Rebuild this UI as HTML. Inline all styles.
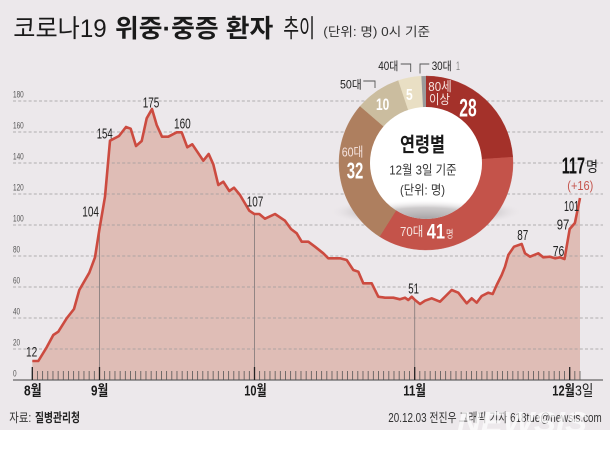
<!DOCTYPE html>
<html><head><meta charset="utf-8"><style>
html,body{margin:0;padding:0;background:#fff;}
svg{display:block;}
text{font-family:"Liberation Sans","Noto Sans CJK KR",sans-serif;}
</style></head><body>
<svg width="610" height="450" viewBox="0 0 610 450" xmlns="http://www.w3.org/2000/svg">
<defs>
<radialGradient id="sh" cx="50%" cy="50%" r="50%">
<stop offset="0%" stop-color="#8f8b8d" stop-opacity="0.9"/>
<stop offset="65%" stop-color="#aaa6a8" stop-opacity="0.6"/>
<stop offset="100%" stop-color="#ece8eb" stop-opacity="0"/>
</radialGradient>
<clipPath id="hole"><circle cx="426" cy="163" r="56"/></clipPath>
</defs>
<rect x="0" y="0" width="610" height="430" fill="#ece8eb"/>

<!-- title -->
<text x="13.3" y="37" font-size="25" fill="#1a1a1a" textLength="93.4" lengthAdjust="spacingAndGlyphs">코로나19</text>
<text x="115" y="37" font-size="25" font-weight="bold" fill="#1a1a1a" textLength="158.3" lengthAdjust="spacingAndGlyphs">위중·중증 환자</text>
<text x="283.3" y="37" font-size="25" fill="#1a1a1a" textLength="31.7" lengthAdjust="spacingAndGlyphs">추이</text>
<text x="323.3" y="35.8" font-size="12.5" fill="#333" textLength="106.7" lengthAdjust="spacingAndGlyphs">(단위: 명) 0시 기준</text>

<!-- fill -->
<polygon fill="#dfbdb6" points="32.3,380 32.3,361 38.3,361 46.7,347.3 53.3,335 58.3,331.7 66.7,318.3 74,309 79.3,290 89.3,272.7 95,257.3 99.3,230 105,196.7 110,140.7 119,136 126,127 130.7,128.7 136,146 141.7,141 146.7,118.3 152,109 156.7,125 162,136.7 168.3,136.7 176.7,132.3 181.7,132.3 187.3,147.3 192.3,144.3 203.3,160.7 208.7,154 213.3,164.3 218.3,185 223.3,181.7 229.3,191 234,187.7 240,195 249.3,210.7 254.3,214 259.3,214 265,218.7 275,214 285,220.7 291,229 296.7,233.3 301.7,241.7 308.3,241.7 315,246.7 323.3,253.3 328.3,258.3 340,258.3 346.7,260 353.3,270 358.3,271.7 363.3,283.3 371.7,283.3 378.3,296.7 385,297.7 393.3,297.7 400,299.3 405,297.7 408.3,300 411.7,296.7 415,300 420,304 425,300.7 431.7,298.3 440,301.7 446.7,295 451.7,290 458.3,292.7 466.7,303.3 471.7,298.3 476.7,302.7 481.7,296 488.3,292.7 492.7,294 496.7,285 501.7,275 505,266.7 508.3,255 514,246.7 521.7,244 525,253.3 530,256.7 538.3,253.3 543.3,257.3 550,256.7 555,258.3 560,257.3 564.5,259 569.7,229 574.9,223 580,198 580,380"/>

<!-- gridlines -->
<g stroke="#9c9a9c" stroke-width="0.8" stroke-dasharray="3 2.2">
<line x1="13" y1="101" x2="603" y2="101"/>
<line x1="13" y1="132" x2="603" y2="132"/>
<line x1="13" y1="163" x2="603" y2="163"/>
<line x1="13" y1="194" x2="603" y2="194"/>
<line x1="13" y1="225" x2="603" y2="225"/>
<line x1="13" y1="256" x2="603" y2="256"/>
<line x1="13" y1="287" x2="603" y2="287"/>
<line x1="13" y1="318" x2="603" y2="318"/>
<line x1="13" y1="349" x2="603" y2="349"/>
</g>
<g font-size="9.5" fill="#555">
<text x="13" y="97.5" textLength="10.7" lengthAdjust="spacingAndGlyphs">180</text>
<text x="13" y="128.5" textLength="10.7" lengthAdjust="spacingAndGlyphs">160</text>
<text x="13" y="159.5" textLength="10.7" lengthAdjust="spacingAndGlyphs">140</text>
<text x="13" y="190.5" textLength="10.7" lengthAdjust="spacingAndGlyphs">120</text>
<text x="13" y="221.5" textLength="10.7" lengthAdjust="spacingAndGlyphs">100</text>
<text x="13" y="252.5" textLength="7.1" lengthAdjust="spacingAndGlyphs">80</text>
<text x="13" y="283.5" textLength="7.1" lengthAdjust="spacingAndGlyphs">60</text>
<text x="13" y="314.5" textLength="7.1" lengthAdjust="spacingAndGlyphs">40</text>
<text x="13" y="345.5" textLength="7.1" lengthAdjust="spacingAndGlyphs">20</text>
<text x="13" y="376.5" textLength="3.6" lengthAdjust="spacingAndGlyphs">0</text>
</g>

<!-- vertical month lines -->
<g stroke="#8a7f7f" stroke-width="0.9">
<line x1="99.5" y1="230" x2="99.5" y2="367"/>
<line x1="254.5" y1="214" x2="254.5" y2="367"/>
<line x1="414.7" y1="300" x2="414.7" y2="367"/>
</g>

<!-- axis -->
<line x1="13" y1="380" x2="603" y2="380" stroke="#666" stroke-width="1.3"/>
<line x1="31.9" y1="375.5" x2="581" y2="375.5" stroke="#555" stroke-width="9" stroke-dasharray="0.8 4.367"/>
<g stroke="#222" stroke-width="1.3">
<line x1="32.3" y1="367" x2="32.3" y2="380"/>
<line x1="99.5" y1="367" x2="99.5" y2="380"/>
<line x1="254.5" y1="367" x2="254.5" y2="380"/>
<line x1="414.7" y1="367" x2="414.7" y2="380"/>
<line x1="569.7" y1="367" x2="569.7" y2="380"/>
</g>

<!-- line -->
<polyline fill="none" stroke="#cc4b40" stroke-width="2.6" stroke-linejoin="round" points="32.3,361 38.3,361 46.7,347.3 53.3,335 58.3,331.7 66.7,318.3 74,309 79.3,290 89.3,272.7 95,257.3 99.3,230 105,196.7 110,140.7 119,136 126,127 130.7,128.7 136,146 141.7,141 146.7,118.3 152,109 156.7,125 162,136.7 168.3,136.7 176.7,132.3 181.7,132.3 187.3,147.3 192.3,144.3 203.3,160.7 208.7,154 213.3,164.3 218.3,185 223.3,181.7 229.3,191 234,187.7 240,195 249.3,210.7 254.3,214 259.3,214 265,218.7 275,214 285,220.7 291,229 296.7,233.3 301.7,241.7 308.3,241.7 315,246.7 323.3,253.3 328.3,258.3 340,258.3 346.7,260 353.3,270 358.3,271.7 363.3,283.3 371.7,283.3 378.3,296.7 385,297.7 393.3,297.7 400,299.3 405,297.7 408.3,300 411.7,296.7 415,300 420,304 425,300.7 431.7,298.3 440,301.7 446.7,295 451.7,290 458.3,292.7 466.7,303.3 471.7,298.3 476.7,302.7 481.7,296 488.3,292.7 492.7,294 496.7,285 501.7,275 505,266.7 508.3,255 514,246.7 521.7,244 525,253.3 530,256.7 538.3,253.3 543.3,257.3 550,256.7 555,258.3 560,257.3 564.5,259 569.7,229 574.9,223 580,198"/>

<!-- annotations -->
<g font-size="15" fill="#222">
<text x="26" y="356.7" font-size="14" textLength="11.3" lengthAdjust="spacingAndGlyphs">12</text>
<text x="82.3" y="216.7" textLength="16.7" lengthAdjust="spacingAndGlyphs">104</text>
<text x="96.7" y="138.3" textLength="16" lengthAdjust="spacingAndGlyphs">154</text>
<text x="142.7" y="107.3" textLength="16.6" lengthAdjust="spacingAndGlyphs">175</text>
<text x="174" y="128.3" textLength="16.7" lengthAdjust="spacingAndGlyphs">160</text>
<text x="246.7" y="206.7" textLength="16.6" lengthAdjust="spacingAndGlyphs">107</text>
<text x="408.3" y="293.3" textLength="10.7" lengthAdjust="spacingAndGlyphs">51</text>
<text x="517.3" y="240" textLength="11" lengthAdjust="spacingAndGlyphs">87</text>
<text x="552.7" y="256" textLength="11.6" lengthAdjust="spacingAndGlyphs">76</text>
<text x="556.7" y="229.3" textLength="12.6" lengthAdjust="spacingAndGlyphs">97</text>
<text x="564" y="211" textLength="15" lengthAdjust="spacingAndGlyphs">101</text>
</g>
<text x="561.7" y="173.3" font-size="23" font-weight="bold" fill="#111" textLength="23.3" lengthAdjust="spacingAndGlyphs">117</text>
<text x="586" y="172" font-size="14.5" fill="#222" textLength="12" lengthAdjust="spacingAndGlyphs">명</text>
<text x="567.3" y="190" font-size="13" fill="#c4544c" textLength="26" lengthAdjust="spacingAndGlyphs">(+16)</text>

<!-- donut shadow -->
<ellipse cx="426" cy="212" rx="97" ry="15" fill="url(#sh)"/>
<!-- donut -->
<path d="M426,76 A87,87 0 0 1 512.80,157.16 L481.87,159.24 A56,56 0 0 0 426,107 Z" fill="#a4312a" stroke="#a4312a" stroke-width="0.4"/>
<path d="M512.80,157.16 A87,87 0 0 1 379.51,236.53 L396.07,210.33 A56,56 0 0 0 481.87,159.24 Z" fill="#c4534a" stroke="#c4534a" stroke-width="0.4"/>
<path d="M379.51,236.53 A87,87 0 0 1 360.12,106.18 L383.60,126.43 A56,56 0 0 0 396.07,210.33 Z" fill="#ae7f5f" stroke="#ae7f5f" stroke-width="0.4"/>
<path d="M360.12,106.18 A87,87 0 0 1 398.45,80.48 L408.26,109.88 A56,56 0 0 0 383.60,126.43 Z" fill="#cbbd9f" stroke="#cbbd9f" stroke-width="0.4"/>
<path d="M398.45,80.48 A87,87 0 0 1 421.33,76.13 L422.99,107.08 A56,56 0 0 0 408.26,109.88 Z" fill="#e9dfc4" stroke="#e9dfc4" stroke-width="0.4"/>
<path d="M421.33,76.13 A87,87 0 0 1 426,76 L426,107 A56,56 0 0 0 422.99,107.08 Z" fill="#9b9b9b"/>
<circle cx="426" cy="163" r="56" fill="#ffffff"/>
<ellipse cx="426" cy="222" rx="92" ry="22" fill="url(#sh)" clip-path="url(#hole)"/>

<!-- donut texts -->
<text x="422.5" y="151.7" font-size="20" font-weight="bold" fill="#1a1a1a" text-anchor="middle" textLength="45" lengthAdjust="spacingAndGlyphs">연령별</text>
<text x="423" y="174.5" font-size="13" fill="#333" text-anchor="middle" textLength="67.4" lengthAdjust="spacingAndGlyphs">12월 3일 기준</text>
<text x="422.5" y="194.5" font-size="13" fill="#333" text-anchor="middle" textLength="45" lengthAdjust="spacingAndGlyphs">(단위: 명)</text>

<g fill="#f6e4e0">
<text x="428.3" y="91" font-size="13" textLength="23.4" lengthAdjust="spacingAndGlyphs">80세</text>
<text x="429" y="104" font-size="13" textLength="21" lengthAdjust="spacingAndGlyphs">이상</text>
<text x="341.7" y="156.5" font-size="13" textLength="21.6" lengthAdjust="spacingAndGlyphs">60대</text>
<text x="400" y="236.2" font-size="13" textLength="23.3" lengthAdjust="spacingAndGlyphs">70대</text>
<text x="446" y="237.5" font-size="10.5" textLength="7.5" lengthAdjust="spacingAndGlyphs">명</text>
</g>
<g fill="#ffffff" font-weight="bold">
<text x="459.3" y="116.7" font-size="25" textLength="17.4" lengthAdjust="spacingAndGlyphs">28</text>
<text x="346.7" y="178.3" font-size="23" textLength="16.6" lengthAdjust="spacingAndGlyphs">32</text>
<text x="426.7" y="238.3" font-size="21" textLength="18.3" lengthAdjust="spacingAndGlyphs">41</text>
<text x="376" y="110" font-size="17" textLength="13.3" lengthAdjust="spacingAndGlyphs">10</text>
<text x="406" y="100" font-size="16" textLength="6.7" lengthAdjust="spacingAndGlyphs">5</text>
</g>

<!-- outside labels -->
<g fill="#222" font-size="11.5">
<text x="340" y="88.5" textLength="21.7" lengthAdjust="spacingAndGlyphs">50대</text>
<text x="378.3" y="70" textLength="20" lengthAdjust="spacingAndGlyphs">40대</text>
<text x="431.7" y="70" textLength="20" lengthAdjust="spacingAndGlyphs">30대</text>
<text x="456" y="70" fill="#888" textLength="4" lengthAdjust="spacingAndGlyphs">1</text>
</g>
<g fill="none" stroke="#555" stroke-width="0.9">
<polyline points="363.3,81 375,81 375,88"/>
<polyline points="400.7,64 410.7,64 410.7,72"/>
<polyline points="420,73.5 420,64 429.3,64"/>
</g>

<!-- x labels -->
<g font-size="15" fill="#1a1a1a" font-weight="bold">
<text x="24" y="395.5" textLength="17.7" lengthAdjust="spacingAndGlyphs">8월</text>
<text x="91" y="395.5" textLength="17.3" lengthAdjust="spacingAndGlyphs">9월</text>
<text x="244.3" y="395.5" textLength="22.4" lengthAdjust="spacingAndGlyphs">10월</text>
<text x="403.3" y="395.5" textLength="22.7" lengthAdjust="spacingAndGlyphs">11월</text>
<text x="552.3" y="395.5" textLength="22.5" lengthAdjust="spacingAndGlyphs">12월</text>
</g>
<text x="575" y="395.5" font-size="15" fill="#1a1a1a" textLength="18.3" lengthAdjust="spacingAndGlyphs">3일</text>

<!-- footer -->
<text x="9.3" y="422" font-size="12.5" fill="#333" textLength="22" lengthAdjust="spacingAndGlyphs">자료:</text>
<text x="35" y="422" font-size="12.5" font-weight="bold" fill="#222" textLength="45" lengthAdjust="spacingAndGlyphs">질병관리청</text>
<text x="388.3" y="422" font-size="12.5" fill="#333" textLength="213.4" lengthAdjust="spacingAndGlyphs">20.12.03 전진우 그래픽 기자 618tue@newsis.com</text>
<text x="457" y="432" font-size="29" font-weight="bold" font-style="italic" fill="#ffffff" fill-opacity="0.68" textLength="130" lengthAdjust="spacingAndGlyphs">NEWSIS</text>
</svg>
</body></html>
